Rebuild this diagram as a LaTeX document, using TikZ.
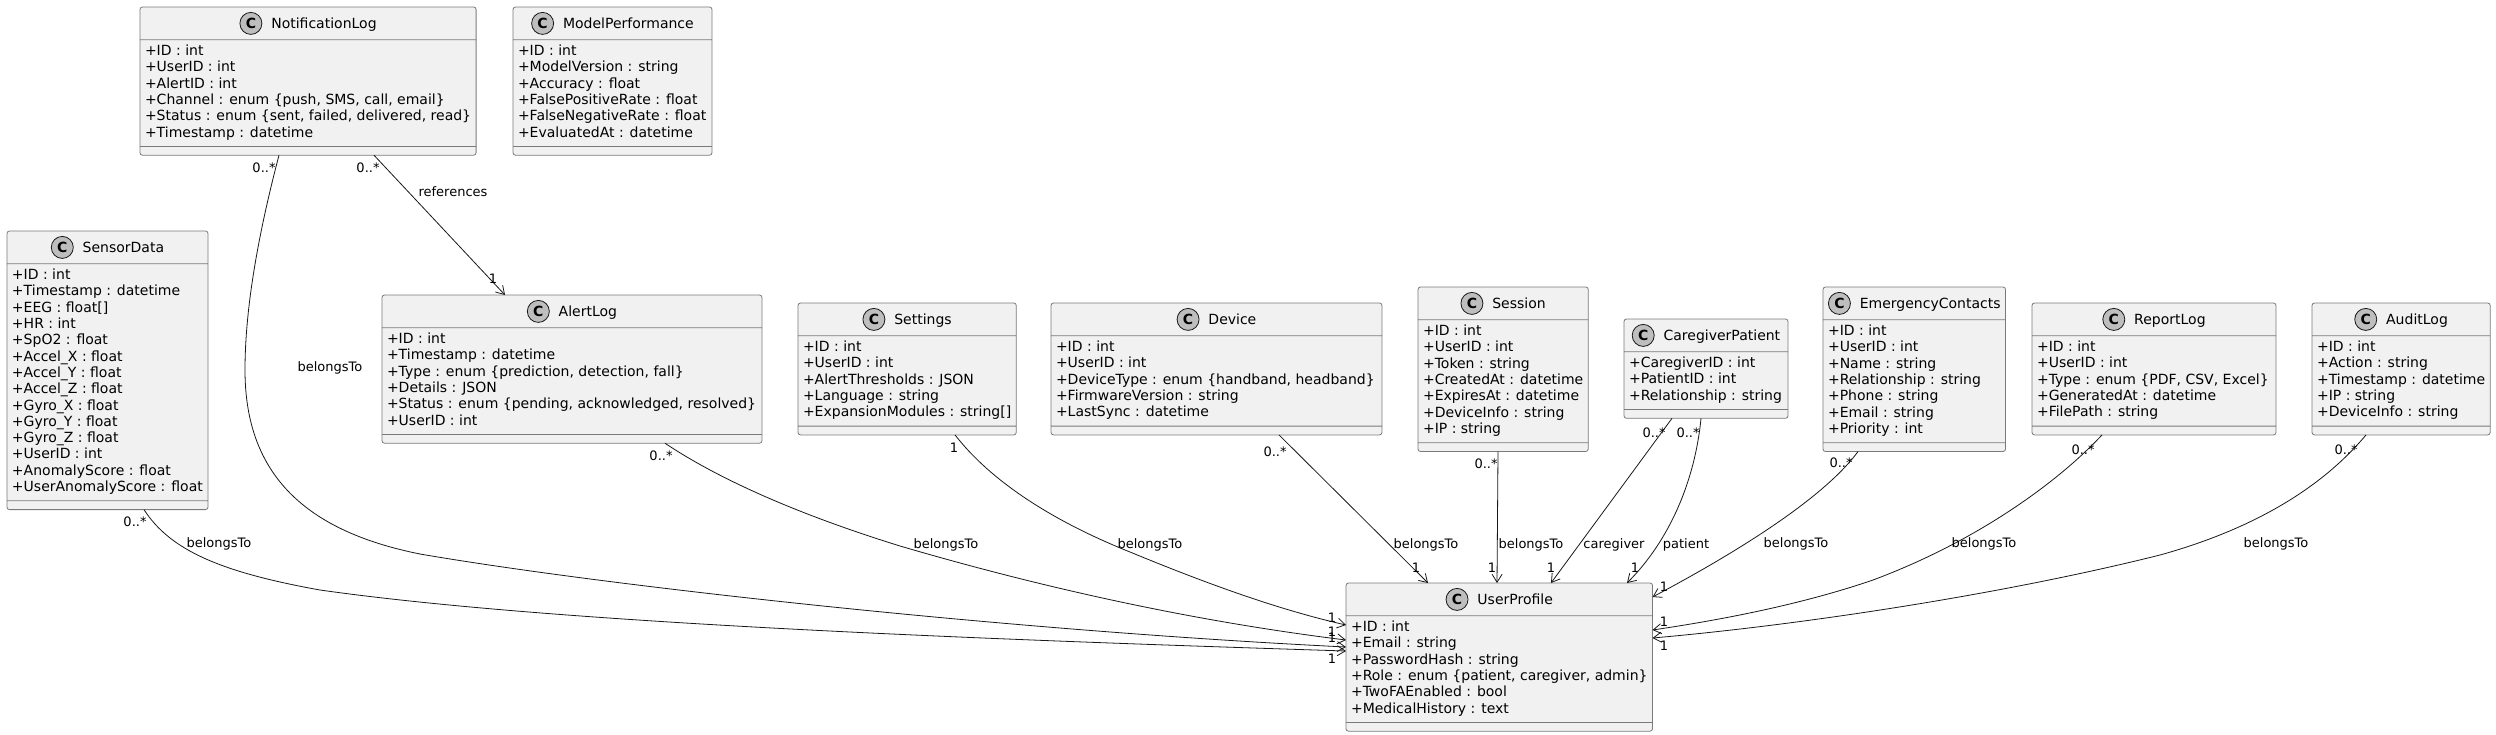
\documentclass[tikz,border=0pt]{standalone}
\usepackage{fontspec}
\setmainfont{DejaVu Sans}
\usepackage{xcolor}
\usepackage{tikz}
\usetikzlibrary{positioning}
\usetikzlibrary{arrows.meta}
\usetikzlibrary{shapes.multipart}
\definecolor{classfill}{HTML}{F1F1F1}
\definecolor{classline}{HTML}{7A7A7A}
\definecolor{linkline}{HTML}{181818}
\definecolor{icongrey}{HTML}{BEBEBE}
\newcommand{\classicon}{\tikz[baseline={([yshift=-5pt]ic.center)}]
  \node[circle, draw=linkline, fill=icongrey, line width=0.8pt, inner sep=0pt,
    minimum size=22pt, font=\bfseries\fontsize{14}{14}\selectfont] (ic) {C};}
\newcommand{\classhead}[1]{\classicon\hspace{9pt}#1\rule[-7pt]{0pt}{24pt}}
\newcommand{\attrs}[1]{\begin{tabular}{@{}l@{}}#1\end{tabular}}
\newcommand{\nomethods}{\rule{0.1pt}{0pt}}
\tikzset {
  % class box: name, attributes, empty methods
  umlclass/.style={rectangle split, rectangle split parts=3,
    rectangle split part align={center,left,left},
    rectangle split ignore empty parts=false,
    draw=classline, fill=classfill, line width=0.8pt, rounded corners=2.5pt,
    inner xsep=5pt, inner ysep=4pt, outer sep=0pt, minimum width=#1,
    anchor=north west, font=\fontsize{14}{16.3}\selectfont},
  % association
  link/.style={draw=linkline, line width=0.8pt, -{Straight Barb[length=8pt, width=10pt]}},
  % multiplicities and role names
  mult/.style={inner sep=0pt, font=\fontsize{13}{13}\selectfont},
}
\begin{document}
\begin{tikzpicture}[x=1pt, y=-1pt]
  \useasboundingbox (0,0) rectangle (2496,734);

  \node[umlclass=336] (notif) at (140,7) {\classhead{NotificationLog}
    \nodepart{two}\attrs{+ID : int\\ +UserID : int\\ +AlertID : int\\
      +Channel : enum \{push, SMS, call, email\}\\
      +Status : enum \{sent, failed, delivered, read\}\\ +Timestamp : datetime}
    \nodepart{three}\nomethods};
  \node[umlclass=199] (model) at (513,7) {\classhead{ModelPerformance}
    \nodepart{two}\attrs{+ID : int\\ +ModelVersion : string\\ +Accuracy : float\\
      +FalsePositiveRate : float\\ +FalseNegativeRate : float\\ +EvaluatedAt : datetime}
    \nodepart{three}\nomethods};
  \node[umlclass=201] (sensor) at (7,231) {\classhead{SensorData}
    \nodepart{two}\attrs{+ID : int\\ +Timestamp : datetime\\ +EEG : float[]\\ +HR : int\\
      +SpO2 : float\\ +Accel\_X : float\\ +Accel\_Y : float\\ +Accel\_Z : float\\
      +Gyro\_X : float\\ +Gyro\_Y : float\\ +Gyro\_Z : float\\ +UserID : int\\
      +AnomalyScore : float\\ +UserAnomalyScore : float}
    \nodepart{three}\nomethods};
  \node[umlclass=380] (alert) at (382,295) {\classhead{AlertLog}
    \nodepart{two}\attrs{+ID : int\\ +Timestamp : datetime\\
      +Type : enum \{prediction, detection, fall\}\\ +Details : JSON\\
      +Status : enum \{pending, acknowledged, resolved\}\\ +UserID : int}
    \nodepart{three}\nomethods};
  \node[umlclass=218] (settings) at (798,303) {\classhead{Settings}
    \nodepart{two}\attrs{+ID : int\\ +UserID : int\\ +AlertThresholds : JSON\\
      +Language : string\\ +ExpansionModules : string[]}
    \nodepart{three}\nomethods};
  \node[umlclass=331] (device) at (1051,303) {\classhead{Device}
    \nodepart{two}\attrs{+ID : int\\ +UserID : int\\
      +DeviceType : enum \{handband, headband\}\\ +FirmwareVersion : string\\
      +LastSync : datetime}
    \nodepart{three}\nomethods};
  \node[umlclass=170] (session) at (1418,287) {\classhead{Session}
    \nodepart{two}\attrs{+ID : int\\ +UserID : int\\ +Token : string\\
      +CreatedAt : datetime\\ +ExpiresAt : datetime\\ +DeviceInfo : string\\ +IP : string}
    \nodepart{three}\nomethods};
  \node[umlclass=164] (carepat) at (1624,319) {\classhead{CaregiverPatient}
    \nodepart{two}\attrs{+CaregiverID : int\\ +PatientID : int\\ +Relationship : string}
    \nodepart{three}\nomethods};
  \node[umlclass=173] (contacts) at (1823,287) {\classhead{EmergencyContacts}
    \nodepart{two}\attrs{+ID : int\\ +UserID : int\\ +Name : string\\
      +Relationship : string\\ +Phone : string\\ +Email : string\\ +Priority : int}
    \nodepart{three}\nomethods};
  \node[umlclass=244] (report) at (2032,303) {\classhead{ReportLog}
    \nodepart{two}\attrs{+ID : int\\ +UserID : int\\ +Type : enum \{PDF, CSV, Excel\}\\
      +GeneratedAt : datetime\\ +FilePath : string}
    \nodepart{three}\nomethods};
  \node[umlclass=178] (audit) at (2312,303) {\classhead{AuditLog}
    \nodepart{two}\attrs{+ID : int\\ +Action : string\\ +Timestamp : datetime\\
      +IP : string\\ +DeviceInfo : string}
    \nodepart{three}\nomethods};
  \node[umlclass=306] (user) at (1346,583) {\classhead{UserProfile}
    \nodepart{two}\attrs{+ID : int\\ +Email : string\\ +PasswordHash : string\\
      +Role : enum \{patient, caregiver, admin\}\\ +TwoFAEnabled : bool\\
      +MedicalHistory : text}
    \nodepart{three}\nomethods};

  \draw[link] (sensor.south -| 144,0) .. controls (170,550) and (220,572) .. (320,590)
    .. controls (560,624) and (1000,640) .. (user.west |- 0,651)
    node[mult] (sensor-m) at (135,522) {0..*}
    node[mult] (sensor-l) at (219,544) {belongsTo}
    node[mult] (sensor-u) at (1332,659) {1};
  \draw[link] (notif.south -| 279,0) .. controls (262,220) and (245,300) .. (245,370)
    .. controls (245,470) and (300,530) .. (420,554)
    .. controls (600,585) and (1000,630) .. (user.west |- 0,647)
    node[mult] (notif-m) at (264,168) {0..*}
    node[mult] (notif-l) at (330,368) {belongsTo}
    node[mult] (notif-u) at (1332,638) {1};
  \draw[link] (notif.south -| 374,0) -- (alert.north -| 505,0)
    node[mult] (ref-m) at (368,168) {0..*}
    node[mult] (ref-l) at (453,192) {references}
    node[mult] (ref-u) at (493,279) {1};
  \draw[link] (alert.south -| 665,0) .. controls (720,480) and (800,515) .. (900,546)
    .. controls (1050,590) and (1200,622) .. (user.west |- 0,640)
    node[mult] (alert-m) at (661,456) {0..*}
    node[mult] (alert-l) at (946,545) {belongsTo}
    node[mult] (alert-u) at (1332,632) {1};
  \draw[link] (settings.south -| 955,0) .. controls (990,480) and (1050,520) .. (1130,552)
    .. controls (1210,585) and (1280,610) .. (user.west |- 0,625)
    node[mult] (settings-m) at (954,448) {1}
    node[mult] (settings-l) at (1150,545) {belongsTo}
    node[mult] (settings-u) at (1332,618) {1};
  \draw[link] (device.south -| 1279,0) -- (user.north -| 1428,0)
    node[mult] (device-m) at (1275,452) {0..*}
    node[mult] (device-l) at (1426,545) {belongsTo}
    node[mult] (device-u) at (1416,568) {1};
  \draw[link] (session.south -| 1498,0) -- (user.north -| 1497,0)
    node[mult] (session-m) at (1486,464) {0..*}
    node[mult] (session-l) at (1531,545) {belongsTo}
    node[mult] (session-u) at (1492,568) {1};
  \draw[link] (carepat.south -| 1672,0) -- (user.north -| 1551,0)
    node[mult] (carer-m) at (1654,433) {0..*}
    node[mult] (carer-l) at (1614,545) {caregiver}
    node[mult] (carer-u) at (1551,568) {1};
  \draw[link] (carepat.south -| 1701,0) .. controls (1695,480) and (1670,540) .. (user.north -| 1627,0)
    node[mult] (patient-m) at (1688,433) {0..*}
    node[mult] (patient-l) at (1686,545) {patient}
    node[mult] (patient-u) at (1635,568) {1};
  \draw[link] (contacts.south -| 1858,0) .. controls (1830,490) and (1760,540) .. (user.east |- 0,597)
    node[mult] (contacts-m) at (1841,463) {0..*}
    node[mult] (contacts-l) at (1796,544) {belongsTo}
    node[mult] (contacts-u) at (1664,587) {1};
  \draw[link] (report.south -| 2102,0) .. controls (2060,480) and (1980,540) .. (1873,580)
    .. controls (1800,605) and (1720,620) .. (user.east |- 0,630)
    node[mult] (report-m) at (2083,450) {0..*}
    node[mult] (report-l) at (1984,544) {belongsTo}
    node[mult] (report-u) at (1664,622) {1};
  \draw[link] (audit.south -| 2366,0) .. controls (2320,490) and (2250,530) .. (2160,555)
    .. controls (2000,595) and (1800,625) .. (user.east |- 0,638)
    node[mult] (audit-m) at (2346,450) {0..*}
    node[mult] (audit-l) at (2276,544) {belongsTo}
    node[mult] (audit-u) at (1664,646) {1};
\end{tikzpicture}
\end{document}
